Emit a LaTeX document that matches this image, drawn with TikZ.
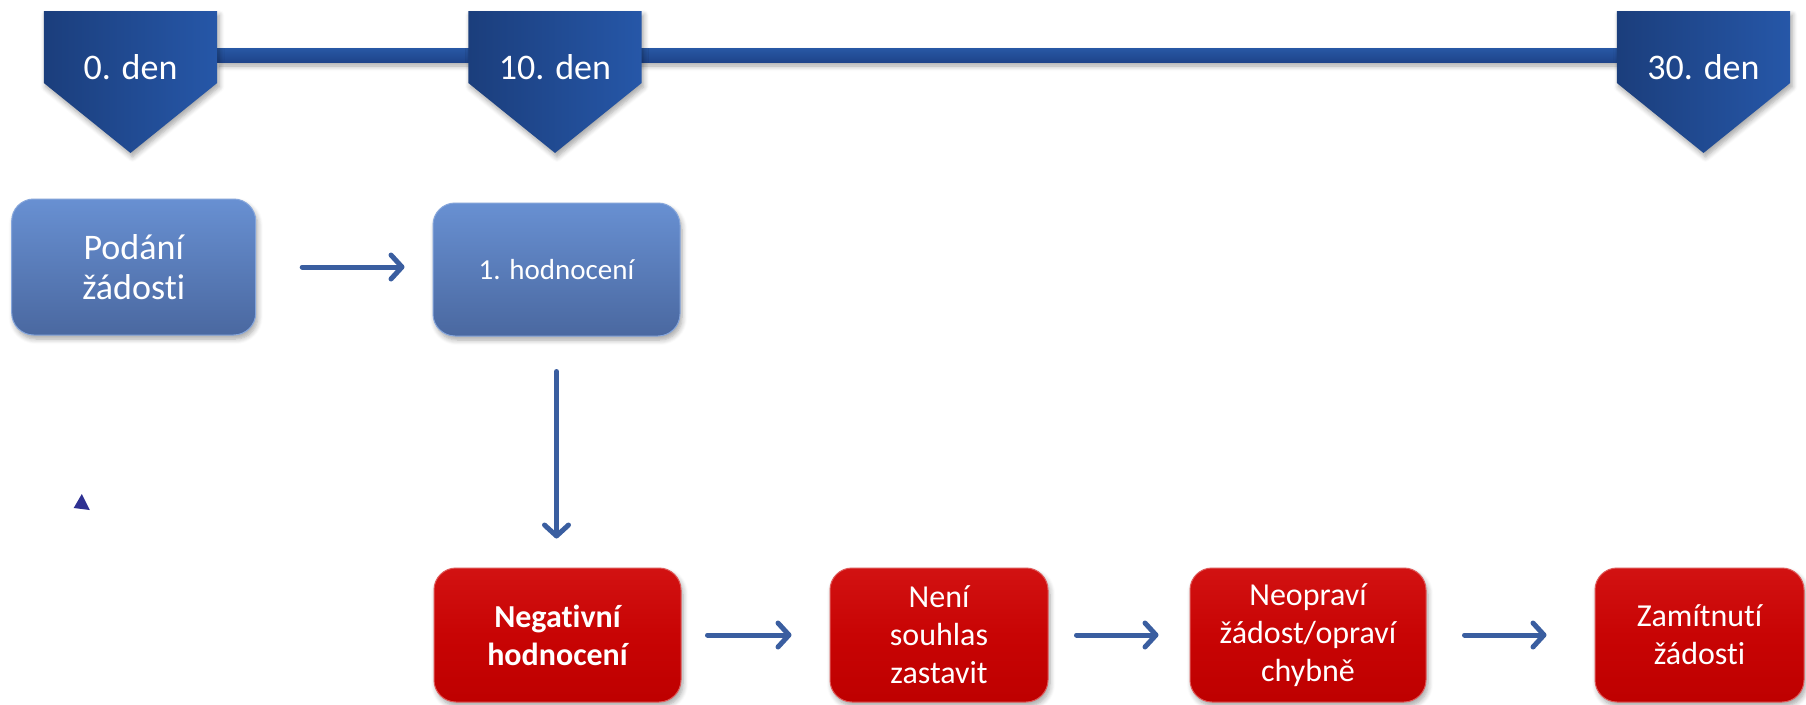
\documentclass[tikz,border=0pt]{standalone}
\usepackage{fontspec}
\setmainfont{Carlito}[Ligatures=NoCommon]
\usetikzlibrary{arrows.meta,shadows.blur}

\definecolor{chevL}{RGB}{27,62,124}
\definecolor{chevR}{RGB}{38,87,168}
\definecolor{barTop}{RGB}{40,88,165}
\definecolor{barBot}{RGB}{30,68,138}
\definecolor{boxTop}{RGB}{104,144,210}
\definecolor{boxBot}{RGB}{74,104,160}
\definecolor{redTop}{RGB}{210,18,18}
\definecolor{redMid}{RGB}{200,4,4}
\definecolor{redBot}{RGB}{190,0,0}
\definecolor{arrowCol}{RGB}{58,94,160}
\definecolor{markCol}{RGB}{46,49,146}

\tikzset{
  softshadow/.style={blur shadow={shadow xshift=2pt, shadow yshift=-4pt,
      shadow blur steps=6, shadow blur radius=5pt, shadow opacity=35}},
  chevbox/.style={rectangle, inner sep=0pt, minimum width=173pt, minimum height=71.5pt},
  chevfill/.style={left color=chevL, right color=chevR, softshadow},
  chevtext/.style={text=white, font=\fontsize{36}{40}\selectfont},
  bluebox/.style={rectangle, rounded corners=22pt, top color=boxTop, bottom color=boxBot,
      draw=boxTop!80!white, line width=1pt, text=white, align=center, softshadow},
  redbox/.style={rectangle, rounded corners=22pt, top color=redTop, bottom color=redBot,
      middle color=redMid, draw=redTop!70!white, line width=1pt, text=white,
      align=center, minimum height=134pt, softshadow,
      font=\fontsize{32}{38}\selectfont},
  flow/.style={draw=arrowCol, line width=5pt, line cap=round,
      -{Straight Barb[length=11pt, width=24pt, round]}},
}

\begin{document}
\begin{tikzpicture}[x=1pt, y=-1pt]
  \useasboundingbox (0,0) rectangle (1806,704);

  % timeline anchors (top parts of the day markers)
  \node[chevbox] (c0)  at (130.5,47) {};
  \node[chevbox] (c10) at (555,47) {};
  \node[chevbox] (c30) at (1703.5,47) {};

  % timeline bar
  \shade[top color=barTop, bottom color=barBot, softshadow]
    ([yshift=7pt]c0.east |- 0,55) rectangle ([yshift=-7pt]c30.west |- 0,55);

  % day markers
  \foreach \c in {c0,c10,c30}{
    \shade[chevfill] (\c.north west) -- (\c.north east) -- (\c.south east)
      -- ([yshift=-70pt]\c.south) -- (\c.south west) -- cycle;
  }
  \node[chevtext] (t0)  at ([yshift=-20pt]c0.center)  {0. den};
  \node[chevtext] (t10) at ([yshift=-20pt]c10.center) {10. den};
  \node[chevtext] (t30) at ([yshift=-20pt]c30.center) {30. den};

  % upper row
  \node[bluebox, minimum width=244pt, minimum height=136pt,
        font=\fontsize{36}{40}\selectfont] (podani) at (133.7,267) {Podání\\žádosti};
  \node[bluebox, minimum width=247pt, minimum height=133pt,
        font=\fontsize{29}{34}\selectfont] (hodn) at (556.5,269.5) {1. hodnocení};

  % lower row
  \node[redbox, minimum width=247pt] (neg) at (557.5,635)
        {\bfseries Negativní\\\bfseries hodnocení};
  \node[redbox, minimum width=218pt] (nesouhlas) at (939,635)
        {Není\\souhlas\\zastavit};
  \node[redbox, minimum width=236pt] (neoprav) at (1308,635)
        {Neopraví\\žádost/opraví\\chybně};
  \node[redbox, minimum width=209pt] (zamit) at (1699.5,635)
        {Zamítnutí\\žádosti};

  % connectors
  \draw[flow, shorten <=46pt, shorten >=28pt] (podani.east) -- (hodn.west |- podani.east);
  \draw[flow, shorten <=35pt, shorten >=29pt] (hodn.south) -- (hodn.south |- neg.north);
  \draw[flow, shorten <=26pt, shorten >=38pt] (neg.east) -- (nesouhlas.west);
  \draw[flow, shorten <=28pt, shorten >=31pt] (nesouhlas.east) -- (neoprav.west);
  \draw[flow, shorten <=38pt, shorten >=48pt] (neoprav.east) -- (zamit.west);

  % small mark on the left
  \fill[markCol] (81.8,494) -- (89.8,510) -- (73.7,508) -- cycle;
\end{tikzpicture}
\end{document}
